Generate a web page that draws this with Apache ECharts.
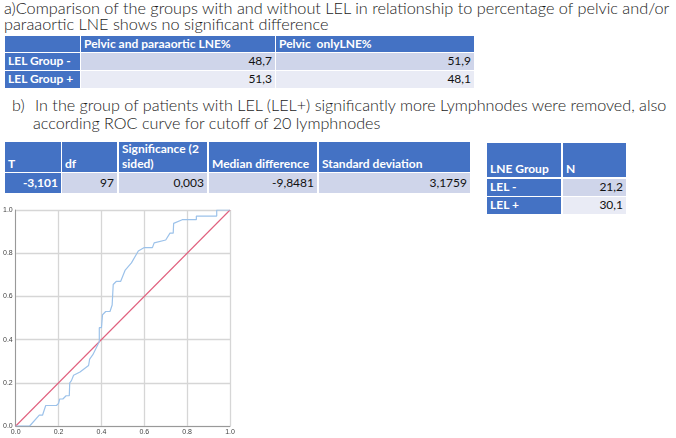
<!DOCTYPE html>
<html>
<head>
<meta charset="utf-8">
<script src="https://cdn.jsdelivr.net/npm/echarts@6/dist/echarts.min.js"></script>
<style>
  html, body { margin: 0; padding: 0; background: #fff; width: 676px; height: 438px; overflow: hidden; }
  .line { position: absolute; white-space: pre; font-family: Lato, "Open Sans", sans-serif; font-weight: 300; color: #1a1a1a; line-height: 1; }
  .cell { position: absolute; box-sizing: border-box; display: flex; font-family: Lato, "Open Sans", sans-serif; font-size: 12px; line-height: 1.2; padding: 0 3px 0 3px; overflow: hidden; white-space: pre; }
  #roc { position: absolute; left: 0; top: 195px; width: 260px; height: 243px; }
</style>
</head>
<body>
<div id="page"></div>
<div id="roc"></div>
<script>
// ---------- data ----------
const titleA = ["a)Comparison of the groups with and without LEL in relationship to percentage of pelvic and/or",
                "paraaortic LNE shows no significant difference"];
const titleBLabel = "b)";
const titleB = ["In the group of patients with LEL (LEL+) significantly more Lymphnodes were removed, also",
                "according ROC curve for cutoff of 20 lymphnodes"];

const tableAHeader = ["", "Pelvic and paraaortic LNE%", "Pelvic  onlyLNE%"];
const tableAGroups = ["LEL Group -", "LEL Group +"];
const pelvicParaaorticPct = [48.7, 51.3];
const pelvicOnlyPct = [51.9, 48.1];

const tableBHeader = ["T", "df", "Significance (2 sided)", "Median difference", "Standard deviation"];
const tableBValues = ["-3,101", "97", "0,003", "-9,8481", "3,1759"];

const tableCHeader = ["LNE Group", "N"];
const tableCGroups = ["LEL -", "LEL +"];
const tableCValues = [21.2, 30.1];

// ROC curve (1 - specificity, sensitivity)
const rocFpr = [0, 0.065, 0.11, 0.125, 0.14, 0.19, 0.2, 0.205, 0.22, 0.235, 0.25, 0.252, 0.26, 0.27, 0.3, 0.34, 0.345, 0.36, 0.38, 0.39, 0.39, 0.4, 0.405, 0.42, 0.44, 0.45, 0.455, 0.47, 0.49, 0.51, 0.54, 0.572, 0.6, 0.638, 0.646, 0.7, 0.72, 0.735, 0.737, 0.777, 0.843, 0.843, 0.938, 0.938, 1];
const rocTpr = [0, 0, 0.05, 0.05, 0.095, 0.095, 0.105, 0.125, 0.125, 0.14, 0.14, 0.2, 0.21, 0.235, 0.25, 0.28, 0.31, 0.33, 0.37, 0.39, 0.455, 0.455, 0.515, 0.53, 0.53, 0.56, 0.655, 0.67, 0.67, 0.72, 0.755, 0.81, 0.826, 0.826, 0.848, 0.861, 0.893, 0.893, 0.938, 0.955, 0.955, 0.972, 0.972, 1, 1];
const refLine = [0, 1];

// ---------- layout helpers ----------
const page = document.getElementById('page');
const BLUE = '#4472C4', ROW1 = '#CFD5EA', ROW2 = '#E9EBF5';
const fmt = v => String(v.toFixed(1)).replace('.', ',');

function addLine(text, x, top, size) {
  const d = document.createElement('div');
  d.className = 'line';
  d.textContent = text;
  d.style.left = x + 'px';
  d.style.top = top + 'px';
  d.style.fontSize = size + 'px';
  page.appendChild(d);
  return d;
}
function fitSize(text, target, base) {
  const d = addLine(text, 0, -100, base);
  const w = d.getBoundingClientRect().width;
  d.remove();
  return base * target / w;
}
function cell(x, y, w, h, bg, text, opt) {
  opt = opt || {};
  const d = document.createElement('div');
  d.className = 'cell';
  d.style.left = x + 'px'; d.style.top = y + 'px';
  d.style.width = w + 'px'; d.style.height = h + 'px';
  d.style.background = bg;
  d.style.color = opt.color || '#111';
  d.style.fontWeight = opt.bold ? '700' : '400';
  d.style.justifyContent = opt.align === 'right' ? 'flex-end' : 'flex-start';
  d.style.textAlign = opt.align === 'right' ? 'right' : 'left';
  d.style.alignItems = opt.valign === 'bottom' ? 'flex-end' : 'center';
  if (opt.valign === 'bottom') d.style.paddingBottom = '1px';
  d.textContent = text;
  page.appendChild(d);
  // wrap only if the text does not fit on one line
  if (d.scrollWidth > d.clientWidth) d.style.whiteSpace = 'normal';
}

// ---------- headings ----------
const sA = fitSize(titleA[0], 666, 16);
addLine(titleA[0], 4, 0, sA);
addLine(titleA[1], 4, 16, sA);
const sB = fitSize(titleB[0], 632, 16);
addLine(titleBLabel, 12, 97, sB);
addLine(titleB[0], 35, 97, sB);
addLine(titleB[1], 33, 115, sB);

// ---------- table a ----------
const aX = [5, 81, 276], aW = [75, 194, 198];
const aY = [36, 53, 71], aH = [16, 17, 17];
tableAHeader.forEach((t, i) => cell(aX[i], aY[0], aW[i], aH[0], BLUE, t, {bold: true, color: '#fff'}));
tableAGroups.forEach((g, r) => {
  const bg = r === 0 ? ROW1 : ROW2;
  cell(aX[0], aY[r + 1], aW[0], aH[r + 1], BLUE, g, {bold: true, color: '#fff'});
  cell(aX[1], aY[r + 1], aW[1], aH[r + 1], bg, fmt(pelvicParaaorticPct[r]), {align: 'right'});
  cell(aX[2], aY[r + 1], aW[2], aH[r + 1], bg, fmt(pelvicOnlyPct[r]), {align: 'right'});
});

// ---------- table b ----------
const bX = [5, 62, 119, 209, 319], bW = [56, 55, 88, 108, 151];
const bY = [142, 173], bH = [30, 20];
tableBHeader.forEach((t, i) => cell(bX[i], bY[0], bW[i], bH[0], BLUE, t, {bold: true, color: '#fff', valign: 'bottom'}));
tableBValues.forEach((v, i) => cell(bX[i], bY[1], bW[i], bH[1], i === 0 ? BLUE : ROW1, v,
  {align: 'right', bold: i === 0, color: i === 0 ? '#fff' : '#111'}));

// ---------- table c ----------
const cX = [487, 563], cW = [74, 63];
const cY = [143, 179, 197], cH = [34, 17, 17];
tableCHeader.forEach((t, i) => cell(cX[i], cY[0], cW[i], cH[0], BLUE, t, {bold: true, color: '#fff', valign: 'bottom'}));
tableCGroups.forEach((g, r) => {
  cell(cX[0], cY[r + 1], cW[0], cH[r + 1], BLUE, g, {bold: true, color: '#fff'});
  cell(cX[1], cY[r + 1], cW[1], cH[r + 1], r === 0 ? ROW1 : ROW2, fmt(tableCValues[r]), {align: 'right'});
});

// ---------- ROC chart ----------
const chart = echarts.init(document.getElementById('roc'), null, {renderer: 'canvas'});
const axisCommon = {
  type: 'value', min: 0, max: 1, interval: 0.2,
  axisLine: {show: true, lineStyle: {color: '#999', width: 1}},
  axisTick: {show: false},
  splitLine: {show: true, lineStyle: {color: '#d6d6d6', width: 1.3}},
  axisLabel: {fontSize: 7, color: '#444', margin: 3, fontFamily: 'Liberation Sans, Arial, sans-serif',
              formatter: v => v.toFixed(1)}
};
chart.setOption({
  animation: false,
  grid: {left: 13, top: 15, width: 217, height: 216, containLabel: false},
  xAxis: axisCommon,
  yAxis: axisCommon,
  series: [
    {type: 'line', data: refLine.map(v => [v, v]), showSymbol: false,
     lineStyle: {color: '#e0607e', width: 1.1}, silent: true},
    {type: 'line', data: rocFpr.map((v, i) => [v, rocTpr[i]]), showSymbol: false,
     lineStyle: {color: '#9cc2ea', width: 1.2}, silent: true}
  ]
});
</script>
</body>
</html>
